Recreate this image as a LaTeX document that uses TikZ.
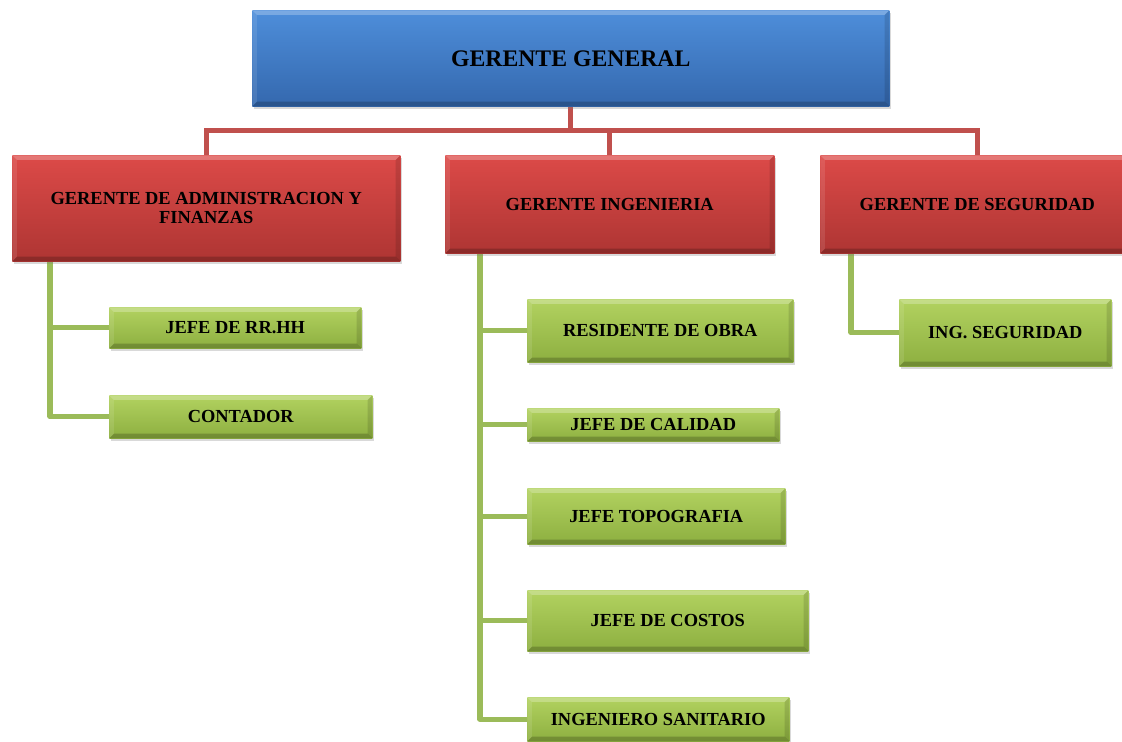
\documentclass[tikz,border=0pt]{standalone}
\usepackage{fontspec}
\setmainfont{Liberation Serif}
\usetikzlibrary{calc,shadows,backgrounds}
\definecolor{blueT}{HTML}{4E8EDA}
\definecolor{blueB}{HTML}{3468AE}
\definecolor{redT}{HTML}{DC4A48}
\definecolor{redB}{HTML}{AE3533}
\definecolor{greenT}{HTML}{B2D260}
\definecolor{greenB}{HTML}{8DAF40}
\definecolor{redLine}{HTML}{C0504D}
\definecolor{greenLine}{HTML}{9BBB59}
\tikzset{
  bevel/.style={path picture={
    \fill[white,opacity=0.25] (path picture bounding box.north west) -- (path picture bounding box.north east)
      -- ([xshift=-3.5pt,yshift=-3.5pt]path picture bounding box.north east) -- ([xshift=3.5pt,yshift=-3.5pt]path picture bounding box.north west) -- cycle;
    \fill[black,opacity=0.2] (path picture bounding box.south west) -- (path picture bounding box.south east)
      -- ([xshift=-3.5pt,yshift=3.5pt]path picture bounding box.south east) -- ([xshift=3.5pt,yshift=3.5pt]path picture bounding box.south west) -- cycle;
    \fill[white,opacity=0.1] (path picture bounding box.north west) -- (path picture bounding box.south west)
      -- ([xshift=3.5pt,yshift=3.5pt]path picture bounding box.south west) -- ([xshift=3.5pt,yshift=-3.5pt]path picture bounding box.north west) -- cycle;
    \fill[black,opacity=0.12] (path picture bounding box.north east) -- (path picture bounding box.south east)
      -- ([xshift=-3.5pt,yshift=3.5pt]path picture bounding box.south east) -- ([xshift=-3.5pt,yshift=-3.5pt]path picture bounding box.north east) -- cycle;
  }},
  box/.style={inner sep=0pt, align=center, text=black, anchor=north west,
    font=\bfseries\fontsize{13.8}{14.5}\selectfont, bevel,
    drop shadow={shadow xshift=1.5pt, shadow yshift=-2pt, opacity=0.3}},
  bluebox/.style={box, top color=blueT, bottom color=blueB, font=\bfseries\fontsize{17.8}{20}\selectfont},
  redbox/.style={box, top color=redT, bottom color=redB},
  greenbox/.style={box, top color=greenT, bottom color=greenB},
  redline/.style={draw=redLine, line width=3.8pt},
  greenline/.style={draw=greenLine, line width=3.8pt, line join=round},
}
\begin{document}
\begin{tikzpicture}[x=0.75pt,y=-0.75pt]
\useasboundingbox (0,0) rectangle (1122,742);
\node[bluebox, minimum width=477.75pt, minimum height=72pt] (gg) at (252,10) {GERENTE GENERAL};
\node[redbox, minimum width=291pt, minimum height=79.5pt] (r1) at (12,155) {GERENTE DE ADMINISTRACION Y\\FINANZAS};
\node[redbox, minimum width=246.75pt, minimum height=73.5pt] (r2) at (445,155) {GERENTE INGENIERIA};
\node[redbox, minimum width=235.5pt, minimum height=73.5pt] (r3) at (820,155) {GERENTE DE SEGURIDAD};
\node[greenbox, minimum width=189pt, minimum height=30.75pt] (rrhh) at (109,307) {JEFE DE RR.HH};
\node[greenbox, minimum width=197.25pt, minimum height=32.25pt] (cont) at (109,395) {CONTADOR};
\node[greenbox, minimum width=199.5pt, minimum height=47.25pt] (res) at (527,299) {RESIDENTE DE OBRA};
\node[greenbox, minimum width=189pt, minimum height=24.75pt] (cal) at (527,408) {JEFE DE CALIDAD};
\node[greenbox, minimum width=193.5pt, minimum height=42pt] (topo) at (527,488) {JEFE TOPOGRAFIA};
\node[greenbox, minimum width=210.75pt, minimum height=45.75pt] (cost) at (527,590) {JEFE DE COSTOS};
\node[greenbox, minimum width=196.5pt, minimum height=33pt] (san) at (527,697) {INGENIERO SANITARIO};
\node[greenbox, minimum width=159pt, minimum height=50.25pt] (ings) at (899,299) {ING. SEGURIDAD};
\begin{scope}[on background layer]
\draw[redline] (gg.south) -- ++(0,24) -| (r1.north);
\draw[redline] (gg.south) -- ++(0,24) -| (r2.north);
\draw[redline] (gg.south) -- ++(0,24) -| (r3.north);
\coordinate (a1) at ($(r1.south west)+(38,0)$);
\coordinate (a2) at ($(r2.south west)+(35,0)$);
\coordinate (a3) at ($(r3.south west)+(31,0)$);
\draw[greenline] (a1) |- (rrhh.west);
\draw[greenline] (a1) |- (cont.west);
\draw[greenline] (a2) |- (res.west);
\draw[greenline] (a2) |- (cal.west);
\draw[greenline] (a2) |- (topo.west);
\draw[greenline] (a2) |- (cost.west);
\draw[greenline] (a2) |- (san.west);
\draw[greenline] (a3) |- (ings.west);
\end{scope}
\end{tikzpicture}
\end{document}
